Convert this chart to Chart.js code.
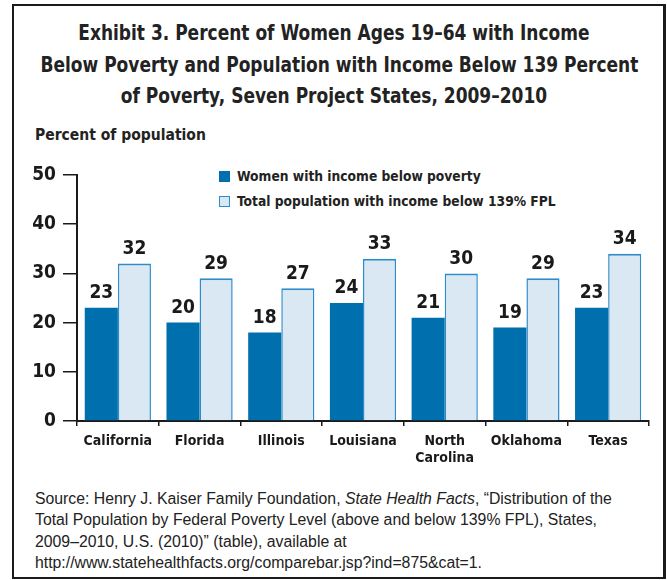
<!DOCTYPE html>
<html>
<head>
<meta charset="utf-8">
<script src="https://cdn.jsdelivr.net/npm/chart.js@4.4.1/dist/chart.umd.min.js"></script>
<style>
  body { margin: 0; background: #fff; }
  #page { position: relative; width: 667px; height: 580px; overflow: hidden; color: #222;
          font-family: "DejaVu Sans Condensed", "Liberation Sans Narrow", sans-serif; }
  #frame { position: absolute; left: 12px; top: 4px; width: 654px; height: 575px;
           box-sizing: border-box; border: 2px solid #1a1a1a; border-right-width: 3px; }
  #title { position: absolute; left: 0; top: 17px; width: 667px; text-align: center;
           font-weight: bold; font-size: 21.5px; line-height: 31.5px; white-space: nowrap;
           transform: scaleX(0.88); transform-origin: 337px 0; }
  #ytitle { position: absolute; left: 35px; top: 126px; font-weight: bold; font-size: 15.5px; }
  #legend { position: absolute; left: 219px; top: 166px; font-weight: bold; font-size: 13.7px; }
  #legend div { height: 25px; line-height: 20px; white-space: nowrap; }
  #legend span { display: inline-block; width: 11px; height: 11px; box-sizing: border-box;
                 margin-right: 7px; vertical-align: -1px; }
  #source { position: absolute; left: 35px; top: 488px; font-family: "Liberation Sans", sans-serif;
            font-size: 15.8px; line-height: 21.3px; white-space: nowrap; }
  canvas { position: absolute; left: 0; top: 0; }
</style>
</head>
<body>
<div id="page">
  <div id="frame"></div>
  <div id="title">Exhibit 3. Percent of Women Ages 19–64 with Income<br>Below Poverty and Population with Income Below 139 Percent<br>of Poverty, Seven Project States, 2009–2010</div>
  <div id="ytitle">Percent of population</div>
  <div id="legend"></div>
  <div id="source">Source: Henry J. Kaiser Family Foundation, <i>State Health Facts</i>, “Distribution of the<br>Total Population by Federal Poverty Level (above and below 139% FPL), States,<br>2009–2010, U.S. (2010)” (table), available at<br>http://www.statehealthfacts.org/comparebar.jsp?ind=875&amp;cat=1.</div>
  <canvas id="barChart" width="667" height="580"></canvas>
</div>
<script>
// chart values
const states = ["California", "Florida", "Illinois", "Louisiana", ["North", "Carolina"], "Oklahoma", "Texas"];
const womenBelowPoverty = [23, 20, 18, 24, 21, 19, 23];
const totalBelow139 = [32, 29, 27, 33, 30, 29, 34];
const yTicks = [0, 10, 20, 30, 40, 50];

const seriesNames = ["Women with income below poverty", "Total population with income below 139% FPL"];
const fillColors = ["#006fae", "#d9e8f3"];
const edgeColors = ["#006fae", "#2f8ccb"];

const FONT = "'DejaVu Sans Condensed', 'Liberation Sans Narrow', sans-serif";

// legend (html)
let legendHtml = "";
seriesNames.forEach(function (name, i) {
    legendHtml += '<div><span style="background:' + fillColors[i] + ';border:1.5px solid ' + edgeColors[i] + '"></span>' + name + '</div>';
});
document.getElementById("legend").innerHTML = legendHtml;

// numbers above bars
const barValues = {
    id: "barValues",
    afterDatasetsDraw: function (chart) {
        let ctx = chart.ctx;
        ctx.save();
        ctx.font = "bold 19px " + FONT;
        ctx.fillStyle = "#1a1a1a";
        ctx.textAlign = "center";
        ctx.textBaseline = "bottom";
        chart.data.datasets.forEach(function (ds, i) {
            chart.getDatasetMeta(i).data.forEach(function (bar, j) {
                ctx.fillText(ds.data[j], bar.x, bar.y - 5);
            });
        });
        ctx.restore();
    }
};

var ctxB = document.getElementById("barChart").getContext('2d');
var myBarChart = new Chart(ctxB, {
    type: 'bar',
    data: {
        labels: states,
        datasets: [{
            label: seriesNames[0],
            data: womenBelowPoverty,
            backgroundColor: fillColors[0],
            borderColor: edgeColors[0],
            borderWidth: 0
        }, {
            label: seriesNames[1],
            data: totalBelow139,
            backgroundColor: fillColors[1],
            borderColor: edgeColors[1],
            borderWidth: {top: 2, left: 1.5, right: 1.5, bottom: 0},
            borderSkipped: false
        }]
    },
    options: {
        responsive: false,
        animation: false,
        events: [],
        layout: { padding: { left: 0, top: 175, right: 18, bottom: 89 } },
        datasets: { bar: { categoryPercentage: 0.81, barPercentage: 1 } },
        plugins: { legend: { display: false }, tooltip: { enabled: false } },
        scales: {
            x: {
                grid: { display: true, offset: true, drawOnChartArea: false, tickLength: 5, color: "#1a1a1a", lineWidth: 1.5 },
                border: { display: true, color: "#1a1a1a", width: 2 },
                ticks: { color: "#1a1a1a", font: { family: FONT, size: 14, weight: "bold" }, padding: 7, maxRotation: 0 },
                afterFit: function (s) { s.height = 70; }
            },
            y: {
                min: 0,
                max: 50,
                afterBuildTicks: function (s) { s.ticks = yTicks.map(function (v) { return { value: v }; }); },
                grid: { display: true, drawOnChartArea: false, tickLength: 14, color: "#1a1a1a", lineWidth: 1.5 },
                border: { display: true, color: "#1a1a1a", width: 2 },
                ticks: { color: "#1a1a1a", font: { family: FONT, size: 19, weight: "bold" }, padding: 7 },
                afterFit: function (s) { s.width = 77; }
            }
        }
    },
    plugins: [barValues]
});
</script>
</body>
</html>
